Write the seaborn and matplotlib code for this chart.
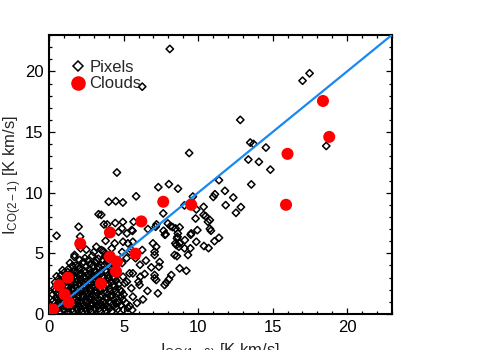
import numpy as np
import pandas as pd
import seaborn as sns
import matplotlib.pyplot as plt
from matplotlib.lines import Line2D
from matplotlib.ticker import MultipleLocator

# --- pixels (I_CO(1-0), I_CO(2-1)), K km/s ---
pixels_sparse = [
    (8.1, 21.85), (6.25, 18.74), (17.01, 19.23), (17.48, 19.84), (12.83, 16.0),
    (9.4, 13.27), (13.5, 14.13), (13.72, 14.02), (14.55, 13.72), (13.37, 12.73),
    (14.08, 12.54), (14.85, 11.9), (18.6, 13.85), (4.55, 11.66), (11.4, 11.03),
    (13.57, 10.68), (11.8, 10.15), (11.13, 9.87), (11.02, 9.65), (12.36, 9.6),
    (7.33, 10.45), (8.04, 10.7), (8.65, 10.33), (5.84, 9.7), (9.65, 9.68),
    (4.0, 9.25), (4.47, 9.3), (4.95, 9.19), (9.08, 8.95), (10.37, 8.83),
    (11.85, 8.97), (12.87, 8.81), (12.54, 8.34), (10.37, 8.17), (10.79, 7.74),
    (10.79, 7.02), (10.86, 6.86), (11.4, 6.28), (11.1, 6.0), (3.32, 8.22),
    (3.5, 8.17), (7.66, 8.29), (9.83, 7.87),
]

pixels_mid = [
    (1.98, 7.19), (0.5, 6.45), (2.08, 6.38), (3.68, 7.38), (3.9, 7.38),
    (4.44, 7.5), (4.95, 7.58), (5.67, 7.6), (5.54, 6.91), (6.63, 7.0),
    (7.21, 7.38), (7.97, 7.46), (8.15, 7.24), (8.29, 7.16), (7.68, 6.86),
    (7.77, 6.53), (8.76, 7.14), (8.62, 6.36), (8.47, 5.82), (8.54, 5.68),
    (9.11, 6.09), (9.5, 6.53), (9.95, 6.91), (10.5, 8.07), (10.66, 7.6),
    (9.88, 8.62), (7.15, 7.19), (5.22, 6.64), (5.6, 6.85), (8.49, 7.05),
    (8.64, 6.64), (8.58, 6.23), (8.76, 5.82), (8.71, 5.54), (9.54, 6.64),
    (7.82, 6.58), (9.88, 5.95), (4.96, 5.95), (5.29, 5.82), (5.62, 5.95),
    (6.97, 5.82), (7.19, 5.54), (7.08, 5.13), (9.09, 5.41), (9.48, 5.41),
    (6.25, 5.27), (5.4, 5.13), (10.39, 5.6), (10.7, 5.43), (3.79, 6.03),
    (4.4, 5.82), (3.17, 5.54), (3.5, 5.27), (3.68, 5.13), (4.66, 6.77),
    (4.89, 7.05), (2.11, 5.41), (1.71, 4.86),
    (7.08, 4.86), (8.42, 4.86), (8.58, 4.77), (9.32, 4.86), (7.42, 4.28),
    (6.86, 3.84), (7.37, 3.89), (5.62, 3.35), (8.2, 3.21), (8.76, 3.76),
    (9.21, 3.56), (6.41, 3.29), (6.12, 3.07), (6.0, 2.66), (6.07, 2.39),
    (7.08, 3.21), (7.08, 2.94), (7.19, 2.8), (7.86, 2.58), (7.75, 2.39),
    (8.04, 2.86), (7.3, 1.7), (5.62, 1.42), (5.52, 2.12), (5.07, 2.53),
    (5.22, 2.66), (4.96, 1.15), (5.18, 0.88), (5.4, 0.66), (5.58, 0.33),
    (4.96, 3.07), (5.4, 3.35), (6.5, 4.4), (6.1, 4.05), (5.8, 4.6),
    (6.6, 1.9), (6.3, 1.2), (5.9, 0.9),
]

pixels_dense = [
    (0.15, 0.1), (0.4, 0.25), (0.7, 0.15), (1.0, 0.3), (1.3, 0.1), (1.6, 0.2),
    (1.9, 0.35), (2.2, 0.15), (2.5, 0.3), (2.8, 0.2), (3.1, 0.4), (3.4, 0.25),
    (3.8, 0.3), (4.2, 0.2), (4.6, 0.4), (5.0, 0.35),
    (0.2, 0.6), (0.5, 0.7), (0.85, 0.55), (1.15, 0.75), (1.45, 0.6), (1.75, 0.8),
    (2.05, 0.6), (2.35, 0.75), (2.65, 0.55), (2.95, 0.8), (3.25, 0.65),
    (3.55, 0.75), (3.9, 0.6), (4.3, 0.8), (4.8, 0.7),
    (0.3, 1.1), (0.6, 1.2), (0.9, 1.0), (1.2, 1.25), (1.5, 1.05), (1.8, 1.2),
    (2.1, 1.0), (2.4, 1.15), (2.7, 1.3), (3.0, 1.05), (3.3, 1.2), (3.6, 1.0),
    (3.95, 1.3), (4.35, 1.15), (4.7, 1.0),
    (0.25, 1.6), (0.55, 1.7), (0.8, 1.5), (1.1, 1.75), (1.4, 1.55), (1.7, 1.65),
    (2.0, 1.8), (2.3, 1.5), (2.6, 1.7), (2.9, 1.55), (3.2, 1.8), (3.5, 1.6),
    (3.85, 1.75), (4.2, 1.5), (4.55, 1.7), (5.0, 1.6),
    (0.35, 2.1), (0.65, 2.2), (0.95, 2.0), (1.25, 2.25), (1.55, 2.05),
    (1.85, 2.2), (2.15, 2.0), (2.45, 2.3), (2.75, 2.1), (3.05, 2.25), (3.4, 2.0),
    (3.7, 2.2), (4.05, 2.1), (4.4, 2.3), (4.75, 2.0),
    (0.4, 2.6), (0.75, 2.75), (1.05, 2.55), (1.35, 2.7), (1.65, 2.5),
    (1.95, 2.8), (2.25, 2.6), (2.55, 2.75), (2.85, 2.5), (3.15, 2.7),
    (3.45, 2.55), (3.8, 2.8), (4.15, 2.6), (4.5, 2.75),
    (0.5, 3.1), (0.8, 3.2), (1.1, 3.0), (1.4, 3.3), (1.7, 3.05), (2.0, 3.2),
    (2.3, 3.0), (2.6, 3.25), (2.9, 3.1), (3.25, 3.3), (3.6, 3.05), (3.95, 3.2),
    (4.3, 3.0),
    (0.9, 3.6), (1.3, 3.7), (1.6, 3.5), (2.0, 3.75), (2.35, 3.55), (2.7, 3.7),
    (3.05, 3.5), (3.4, 3.8), (3.8, 3.6), (4.2, 3.7), (4.6, 3.55),
    (1.4, 4.2), (1.8, 4.0), (2.3, 4.3), (2.75, 4.1), (3.1, 4.25), (3.5, 4.0),
    (3.9, 4.3), (4.35, 4.1), (4.9, 4.2),
    (1.7, 4.7), (2.4, 4.6), (2.9, 4.8), (3.3, 4.55), (3.75, 4.75), (4.15, 4.6),
    (5.2, 4.6),
    (2.5, 5.3), (3.0, 5.1), (3.6, 5.2), (4.2, 5.4), (4.9, 5.1), (5.5, 5.3),
]

pixels_dense2 = [
    (0.3, 0.4), (0.6, 0.45), (0.95, 0.4), (1.25, 0.45), (1.55, 0.4), (1.85, 0.5),
    (2.15, 0.4), (2.45, 0.5), (2.75, 0.4), (3.05, 0.5), (3.35, 0.45), (3.7, 0.5),
    (4.05, 0.45), (4.45, 0.55), (5.3, 0.5),
    (0.4, 0.9), (0.7, 0.85), (1.0, 0.95), (1.3, 0.9), (1.6, 0.85), (1.9, 0.95),
    (2.2, 0.9), (2.5, 0.95), (2.8, 0.85), (3.1, 0.95), (3.4, 0.9), (3.75, 0.85),
    (4.1, 0.95), (4.5, 0.9),
    (0.45, 1.35), (0.75, 1.4), (1.05, 1.35), (1.35, 1.4), (1.65, 1.35),
    (1.95, 1.45), (2.25, 1.35), (2.55, 1.4), (2.85, 1.35), (3.15, 1.45),
    (3.45, 1.4), (3.8, 1.35), (4.1, 1.45), (4.5, 1.35), (4.85, 1.4),
    (0.4, 1.9), (0.7, 1.95), (1.0, 1.85), (1.3, 1.95), (1.6, 1.9), (1.9, 1.95),
    (2.2, 1.85), (2.5, 1.95), (2.8, 1.85), (3.1, 1.95), (3.45, 1.9), (3.75, 1.95),
    (4.1, 1.85), (4.45, 1.95), (4.85, 1.85),
    (0.5, 2.4), (0.85, 2.45), (1.15, 2.35), (1.45, 2.45), (1.75, 2.35),
    (2.05, 2.45), (2.35, 2.4), (2.65, 2.45), (2.95, 2.35), (3.25, 2.45),
    (3.6, 2.4), (3.95, 2.45), (4.3, 2.4), (4.65, 2.45),
    (0.65, 2.9), (0.95, 2.85), (1.25, 2.95), (1.55, 2.85), (1.85, 2.95),
    (2.15, 2.85), (2.45, 2.95), (2.75, 2.9), (3.05, 2.95), (3.35, 2.85),
    (3.65, 2.95), (4.0, 2.9), (4.4, 2.95),
    (1.0, 3.4), (1.25, 3.45), (1.55, 3.3), (1.85, 3.45), (2.15, 3.35),
    (2.45, 3.45), (2.8, 3.4), (3.15, 3.45), (3.5, 3.35), (3.85, 3.45), (4.2, 3.4),
    (1.55, 3.95), (1.95, 3.95), (2.5, 3.9), (2.95, 3.95), (3.3, 3.9), (3.7, 4.0),
    (4.05, 3.9), (4.45, 3.95),
    (2.05, 4.45), (2.6, 4.4), (3.2, 4.4), (3.6, 4.45), (4.0, 4.4), (4.55, 4.45),
]

# --- clouds ---
cloud_x = [18.38, 18.8, 16.0, 15.9, 7.66, 9.54, 6.19, 4.08, 2.09, 5.8,
           4.08, 4.55, 4.49, 1.26, 0.66, 3.48, 1.04, 1.31, 0.26]
cloud_y = [17.56, 14.6, 13.2, 9.0, 9.25, 9.0, 7.63, 6.72, 5.8, 4.97,
           4.72, 4.3, 3.5, 2.99, 2.36, 2.5, 1.62, 0.96, 0.38]

# 1:1 line
line_x = [0, 23]
line_y = [0, 23]

pix = pd.DataFrame(pixels_sparse + pixels_mid + pixels_dense + pixels_dense2,
                   columns=['x', 'y'])
clouds = pd.DataFrame({'x': cloud_x, 'y': cloud_y})

sns.set_theme(style="ticks")
plt.rcParams['font.family'] = ['Liberation Sans', 'DejaVu Sans']
plt.rcParams['mathtext.fontset'] = 'custom'
plt.rcParams['mathtext.rm'] = 'Liberation Sans'

fig = plt.figure(figsize=(4.91, 3.5), dpi=100)
ax = fig.add_axes([0.1, 0.103, 0.698, 0.797])

sns.scatterplot(data=pix, x='x', y='y', ax=ax, marker='D', s=14,
                facecolor='none', edgecolor='black', linewidth=1.1, zorder=2)
sns.lineplot(x=line_x, y=line_y, ax=ax, color='#1a88f0', linewidth=1.6, zorder=3)
sns.scatterplot(data=clouds, x='x', y='y', ax=ax, marker='o', s=75,
                color='#ff0000', edgecolor='none', zorder=4)

ax.set_xlim(0, 23)
ax.set_ylim(0, 23)
ax.xaxis.set_major_locator(MultipleLocator(5))
ax.yaxis.set_major_locator(MultipleLocator(5))
ax.xaxis.set_minor_locator(MultipleLocator(1))
ax.yaxis.set_minor_locator(MultipleLocator(1))
ax.tick_params(which='both', direction='in', top=True, right=True,
               width=0.9, colors='black', labelsize=12)
ax.tick_params(which='major', length=4.5, pad=4)
ax.tick_params(which='minor', length=2.5)
for sp in ax.spines.values():
    sp.set_linewidth(1.5)
    sp.set_color('black')

ax.set_xlabel(r'$\mathrm{I_{CO(1-0)}}$ [K km/s]', fontsize=12, labelpad=5)
ax.set_ylabel(r'$\mathrm{I_{CO(2-1)}}$ [K km/s]', fontsize=12, labelpad=1)

handles = [
    Line2D([], [], marker='D', ls='none', mfc='none', mec='black', mew=1.1, ms=5),
    Line2D([], [], marker='o', ls='none', mfc='#ff0000', mec='none', ms=10.5),
]
ax.legend(handles, ['Pixels', 'Clouds'], loc='upper left', frameon=False,
          fontsize=12, handletextpad=0.1, labelspacing=0.1, handlelength=1.2,
          borderaxespad=0, bbox_to_anchor=(0.035, 0.935))

fig.savefig('out.png', dpi=100)
